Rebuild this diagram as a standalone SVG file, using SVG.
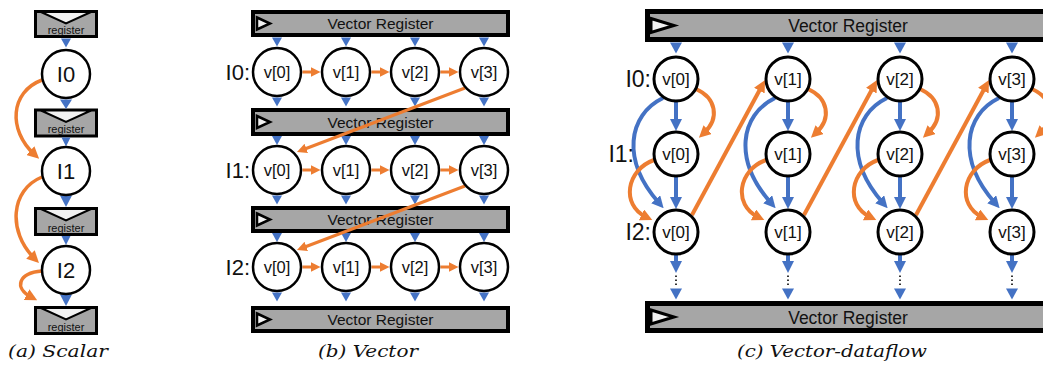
<svg xmlns="http://www.w3.org/2000/svg" xmlns:xlink="http://www.w3.org/1999/xlink" width="1043" height="365" viewBox="0 0 1043 365">
  <style>
    .reg { fill: #a6a6a6; stroke: #000; }
    .clk { fill: #f2f2f2; stroke: #000; }
    .node { fill: #fff; stroke: #000; }
    .sans { font-family: "Liberation Sans", Arial, sans-serif; fill: #111; }
    .cap { font-family: "DejaVu Serif", "Liberation Serif", serif; font-style: italic; font-size: 17px; fill: #111; }
    .o { stroke: #ed7d31; fill: none; }
    .b { stroke: #4472c4; fill: none; }
    .bt { fill: #4472c4; }
    .dots { stroke: #000; stroke-width: 1.6; stroke-dasharray: 1.6 2.4; fill: none; }
  </style>
  <defs>
    <marker id="arrO" markerUnits="userSpaceOnUse" markerWidth="12" markerHeight="12" refX="5" refY="6" orient="auto" viewBox="0 0 12 12">
      <path d="M0,0 L12,6 L0,12 z" fill="#ed7d31"/>
    </marker>
    <marker id="arrOs" markerUnits="userSpaceOnUse" markerWidth="10" markerHeight="10" refX="3" refY="5" orient="auto" viewBox="0 0 10 10">
      <path d="M0,0 L10,5 L0,10 z" fill="#ed7d31"/>
    </marker>
    <marker id="arrB" markerUnits="userSpaceOnUse" markerWidth="12" markerHeight="12" refX="5" refY="6" orient="auto" viewBox="0 0 12 12">
      <path d="M0,0 L12,6 L0,12 z" fill="#4472c4"/>
    </marker>
    <polygon id="tb" class="bt" points="-5,0 5,0 0,9"/>
    <polygon id="tc" class="bt" points="-6,0 6,0 0,11"/>
  </defs>

  <!-- ===================== (a) Scalar ===================== -->
  <g id="a-reg0">
    <rect class="reg" x="35.5" y="11.5" width="61" height="25" stroke-width="3"/>
    <polygon class="clk" points="41,12 66,23.5 91,12" stroke-width="2"/>
    <text class="sans" x="66" y="34" font-size="11" text-anchor="middle">register</text>
  </g>
  <g id="a-reg1">
    <rect class="reg" x="35.5" y="110" width="61" height="26" stroke-width="3"/>
    <polygon class="clk" points="41,110.5 66,122 91,110.5" stroke-width="2"/>
    <text class="sans" x="66" y="133" font-size="11" text-anchor="middle">register</text>
  </g>
  <g id="a-reg2">
    <rect class="reg" x="35.5" y="208.5" width="61" height="26" stroke-width="3"/>
    <polygon class="clk" points="41,209 66,220.5 91,209" stroke-width="2"/>
    <text class="sans" x="66" y="231.5" font-size="11" text-anchor="middle">register</text>
  </g>
  <g id="a-reg3">
    <rect class="reg" x="35.5" y="307.5" width="61" height="26" stroke-width="3"/>
    <polygon class="clk" points="41,308 66,319.5 91,308" stroke-width="2"/>
    <text class="sans" x="66" y="330.5" font-size="11" text-anchor="middle">register</text>
  </g>

  <!-- ===================== (b) Vector: registers ===================== -->
  <g id="b-reg0">
    <rect class="reg" x="253" y="12" width="255" height="23" stroke-width="4"/>
    <polygon class="clk" points="257,17.5 270,23.5 257,29.5" stroke-width="2.5"/>
    <text class="sans" x="380.5" y="29" font-size="15.5" text-anchor="middle">Vector Register</text>
  </g>
  <g id="b-reg1">
    <rect class="reg" x="253" y="110" width="255" height="24" stroke-width="4"/>
    <polygon class="clk" points="257,116 270,122 257,128" stroke-width="2.5"/>
    <text class="sans" x="380.5" y="127.5" font-size="15.5" text-anchor="middle">Vector Register</text>
  </g>
  <g id="b-reg2">
    <rect class="reg" x="253" y="208" width="255" height="23" stroke-width="4"/>
    <polygon class="clk" points="257,213.5 270,219.5 257,225.5" stroke-width="2.5"/>
    <text class="sans" x="380.5" y="225" font-size="15.5" text-anchor="middle">Vector Register</text>
  </g>
  <g id="b-reg3">
    <rect class="reg" x="253" y="308" width="255" height="23" stroke-width="4"/>
    <polygon class="clk" points="257,313.5 270,319.5 257,325.5" stroke-width="2.5"/>
    <text class="sans" x="380.5" y="325" font-size="15.5" text-anchor="middle">Vector Register</text>
  </g>

  <!-- ===================== (c) Vector-dataflow: registers ===================== -->
  <g id="c-reg0">
    <rect class="reg" x="647.5" y="11.5" width="402" height="28" stroke-width="5"/>
    <polygon class="clk" points="651,18.5 674,25.5 651,32.5" stroke-width="3"/>
    <text class="sans" x="848" y="32" font-size="17.5" text-anchor="middle">Vector Register</text>
  </g>
  <g id="c-reg1">
    <rect class="reg" x="647.5" y="303.5" width="402" height="27" stroke-width="5"/>
    <polygon class="clk" points="651,310 674,317 651,324" stroke-width="3"/>
    <text class="sans" x="848" y="323.5" font-size="17.5" text-anchor="middle">Vector Register</text>
  </g>

  <!-- ===================== connectors ===================== -->
  <g id="connectors">
    <!-- (a) register / stage hand-offs -->
    <use xlink:href="#tb" x="66" y="38.5"/>
    <polygon class="bt" points="60,99.5 72,99.5 66,109"/>
    <polygon class="bt" points="61.5,137.5 70.5,137.5 66,146.5"/>
    <polygon class="bt" points="60,195.5 72,195.5 66,207"/>
    <polygon class="bt" points="61.5,236 70.5,236 66,245"/>
    <polygon class="bt" points="60,294.5 72,294.5 66,306"/>
    <!-- (a) forwarding -->
    <path class="o" stroke-width="3.5" d="M42,80 C10,92 8,130 34,154" marker-end="url(#arrO)"/>
    <path class="o" stroke-width="3.5" d="M42,177 C10,190 8,232 34,258" marker-end="url(#arrO)"/>
    <path class="o" stroke-width="3.5" d="M42,271 C18,273 14,288 31,297" marker-end="url(#arrO)"/>

    <!-- (b) register to lane / lane to register -->
    <g>
      <use xlink:href="#tb" x="277" y="37.5"/><use xlink:href="#tb" x="346" y="37.5"/><use xlink:href="#tb" x="415" y="37.5"/><use xlink:href="#tb" x="484" y="37.5"/>
      <use xlink:href="#tb" x="277" y="97.5"/><use xlink:href="#tb" x="346" y="97.5"/><use xlink:href="#tb" x="415" y="97.5"/><use xlink:href="#tb" x="484" y="97.5"/>
      <use xlink:href="#tb" x="277" y="136"/><use xlink:href="#tb" x="346" y="136"/><use xlink:href="#tb" x="415" y="136"/><use xlink:href="#tb" x="484" y="136"/>
      <use xlink:href="#tb" x="277" y="195.5"/><use xlink:href="#tb" x="346" y="195.5"/><use xlink:href="#tb" x="415" y="195.5"/><use xlink:href="#tb" x="484" y="195.5"/>
      <use xlink:href="#tb" x="277" y="233"/><use xlink:href="#tb" x="346" y="233"/><use xlink:href="#tb" x="415" y="233"/><use xlink:href="#tb" x="484" y="233"/>
      <use xlink:href="#tb" x="277" y="292.5"/><use xlink:href="#tb" x="346" y="292.5"/><use xlink:href="#tb" x="415" y="292.5"/><use xlink:href="#tb" x="484" y="292.5"/>
    </g>
    <!-- (b) lane-to-lane order -->
    <g class="o" stroke-width="3">
      <line x1="302.5" y1="72" x2="313.5" y2="72" marker-end="url(#arrOs)"/>
      <line x1="371.5" y1="72" x2="382.5" y2="72" marker-end="url(#arrOs)"/>
      <line x1="440.5" y1="72" x2="451.5" y2="72" marker-end="url(#arrOs)"/>
      <line x1="302.5" y1="170" x2="313.5" y2="170" marker-end="url(#arrOs)"/>
      <line x1="371.5" y1="170" x2="382.5" y2="170" marker-end="url(#arrOs)"/>
      <line x1="440.5" y1="170" x2="451.5" y2="170" marker-end="url(#arrOs)"/>
      <line x1="302.5" y1="267" x2="313.5" y2="267" marker-end="url(#arrOs)"/>
      <line x1="371.5" y1="267" x2="382.5" y2="267" marker-end="url(#arrOs)"/>
      <line x1="440.5" y1="267" x2="451.5" y2="267" marker-end="url(#arrOs)"/>
      <line x1="465" y1="88" x2="303.5" y2="149.5" marker-end="url(#arrOs)"/>
      <line x1="465" y1="186" x2="303.5" y2="247.5" marker-end="url(#arrOs)"/>
    </g>

    <!-- (c) per-lane dataflow, lane 0 -->
    <g transform="translate(676,0)">
      <use xlink:href="#tc" y="42.5"/>
      <line class="b" stroke-width="4" x1="0" y1="102" x2="0" y2="124" marker-end="url(#arrB)"/>
      <line class="b" stroke-width="4" x1="0" y1="177" x2="0" y2="202" marker-end="url(#arrB)"/>
      <path class="b" stroke-width="4" d="M-13,98 C-48,115 -55,160 -17,203" marker-end="url(#arrB)"/>
      <path class="o" stroke-width="4" d="M20,89 C40,98 44,118 28,133" marker-end="url(#arrO)"/>
      <path class="o" stroke-width="4" d="M-22,160 C-50,170 -55,205 -30,217" marker-end="url(#arrO)"/>
      <line class="b" stroke-width="4" x1="0" y1="255" x2="0" y2="266" marker-end="url(#arrB)"/>
      <line class="dots" x1="0" y1="275.5" x2="0" y2="287"/>
      <use xlink:href="#tc" y="288.5"/>
      <line class="o" stroke-width="4" x1="16" y1="215" x2="85.7" y2="86.2" marker-end="url(#arrO)"/>
    </g>
    <!-- lane 1 -->
    <g transform="translate(788,0)">
      <use xlink:href="#tc" y="42.5"/>
      <line class="b" stroke-width="4" x1="0" y1="102" x2="0" y2="124" marker-end="url(#arrB)"/>
      <line class="b" stroke-width="4" x1="0" y1="177" x2="0" y2="202" marker-end="url(#arrB)"/>
      <path class="b" stroke-width="4" d="M-13,98 C-48,115 -55,160 -17,203" marker-end="url(#arrB)"/>
      <path class="o" stroke-width="4" d="M20,89 C40,98 44,118 28,133" marker-end="url(#arrO)"/>
      <path class="o" stroke-width="4" d="M-22,160 C-50,170 -55,205 -30,217" marker-end="url(#arrO)"/>
      <line class="b" stroke-width="4" x1="0" y1="255" x2="0" y2="266" marker-end="url(#arrB)"/>
      <line class="dots" x1="0" y1="275.5" x2="0" y2="287"/>
      <use xlink:href="#tc" y="288.5"/>
      <line class="o" stroke-width="4" x1="16" y1="215" x2="85.7" y2="86.2" marker-end="url(#arrO)"/>
    </g>
    <!-- lane 2 -->
    <g transform="translate(900,0)">
      <use xlink:href="#tc" y="42.5"/>
      <line class="b" stroke-width="4" x1="0" y1="102" x2="0" y2="124" marker-end="url(#arrB)"/>
      <line class="b" stroke-width="4" x1="0" y1="177" x2="0" y2="202" marker-end="url(#arrB)"/>
      <path class="b" stroke-width="4" d="M-13,98 C-48,115 -55,160 -17,203" marker-end="url(#arrB)"/>
      <path class="o" stroke-width="4" d="M20,89 C40,98 44,118 28,133" marker-end="url(#arrO)"/>
      <path class="o" stroke-width="4" d="M-22,160 C-50,170 -55,205 -30,217" marker-end="url(#arrO)"/>
      <line class="b" stroke-width="4" x1="0" y1="255" x2="0" y2="266" marker-end="url(#arrB)"/>
      <line class="dots" x1="0" y1="275.5" x2="0" y2="287"/>
      <use xlink:href="#tc" y="288.5"/>
      <line class="o" stroke-width="4" x1="16" y1="215" x2="85.7" y2="86.2" marker-end="url(#arrO)"/>
    </g>
    <!-- lane 3 -->
    <g transform="translate(1012,0)">
      <use xlink:href="#tc" y="42.5"/>
      <line class="b" stroke-width="4" x1="0" y1="102" x2="0" y2="124" marker-end="url(#arrB)"/>
      <line class="b" stroke-width="4" x1="0" y1="177" x2="0" y2="202" marker-end="url(#arrB)"/>
      <path class="b" stroke-width="4" d="M-13,98 C-48,115 -55,160 -17,203" marker-end="url(#arrB)"/>
      <path class="o" stroke-width="4" d="M20,89 C40,98 44,118 28,133" marker-end="url(#arrO)"/>
      <path class="o" stroke-width="4" d="M-22,160 C-50,170 -55,205 -30,217" marker-end="url(#arrO)"/>
      <line class="b" stroke-width="4" x1="0" y1="255" x2="0" y2="266" marker-end="url(#arrB)"/>
      <line class="dots" x1="0" y1="275.5" x2="0" y2="287"/>
      <use xlink:href="#tc" y="288.5"/>
    </g>
  </g>

  <!-- ===================== (a) nodes ===================== -->
  <g id="a-I0"><circle class="node" cx="66" cy="74" r="24" stroke-width="2.5"/><text class="sans" x="66" y="82" font-size="22" text-anchor="middle">I0</text></g>
  <g id="a-I1"><circle class="node" cx="66" cy="171" r="24" stroke-width="2.5"/><text class="sans" x="66" y="179" font-size="22" text-anchor="middle">I1</text></g>
  <g id="a-I2"><circle class="node" cx="66" cy="270" r="24" stroke-width="2.5"/><text class="sans" x="66" y="278" font-size="22" text-anchor="middle">I2</text></g>

  <!-- ===================== (b) nodes ===================== -->
  <g id="b-labels" class="sans" font-size="22" text-anchor="end">
    <text x="250" y="80">I0:</text>
    <text x="250" y="178">I1:</text>
    <text x="250" y="275">I2:</text>
  </g>
  <g id="b-r0v0"><circle class="node" cx="277" cy="72" r="24" stroke-width="2.5"/><text class="sans" x="277" y="78" font-size="16.5" text-anchor="middle">v[0]</text></g>
  <g id="b-r0v1"><circle class="node" cx="346" cy="72" r="24" stroke-width="2.5"/><text class="sans" x="346" y="78" font-size="16.5" text-anchor="middle">v[1]</text></g>
  <g id="b-r0v2"><circle class="node" cx="415" cy="72" r="24" stroke-width="2.5"/><text class="sans" x="415" y="78" font-size="16.5" text-anchor="middle">v[2]</text></g>
  <g id="b-r0v3"><circle class="node" cx="484" cy="72" r="24" stroke-width="2.5"/><text class="sans" x="484" y="78" font-size="16.5" text-anchor="middle">v[3]</text></g>
  <g id="b-r1v0"><circle class="node" cx="277" cy="170" r="24" stroke-width="2.5"/><text class="sans" x="277" y="176" font-size="16.5" text-anchor="middle">v[0]</text></g>
  <g id="b-r1v1"><circle class="node" cx="346" cy="170" r="24" stroke-width="2.5"/><text class="sans" x="346" y="176" font-size="16.5" text-anchor="middle">v[1]</text></g>
  <g id="b-r1v2"><circle class="node" cx="415" cy="170" r="24" stroke-width="2.5"/><text class="sans" x="415" y="176" font-size="16.5" text-anchor="middle">v[2]</text></g>
  <g id="b-r1v3"><circle class="node" cx="484" cy="170" r="24" stroke-width="2.5"/><text class="sans" x="484" y="176" font-size="16.5" text-anchor="middle">v[3]</text></g>
  <g id="b-r2v0"><circle class="node" cx="277" cy="267" r="24" stroke-width="2.5"/><text class="sans" x="277" y="273" font-size="16.5" text-anchor="middle">v[0]</text></g>
  <g id="b-r2v1"><circle class="node" cx="346" cy="267" r="24" stroke-width="2.5"/><text class="sans" x="346" y="273" font-size="16.5" text-anchor="middle">v[1]</text></g>
  <g id="b-r2v2"><circle class="node" cx="415" cy="267" r="24" stroke-width="2.5"/><text class="sans" x="415" y="273" font-size="16.5" text-anchor="middle">v[2]</text></g>
  <g id="b-r2v3"><circle class="node" cx="484" cy="267" r="24" stroke-width="2.5"/><text class="sans" x="484" y="273" font-size="16.5" text-anchor="middle">v[3]</text></g>

  <!-- ===================== (c) nodes ===================== -->
  <g id="c-labels" class="sans" font-size="23" text-anchor="end">
    <text x="651" y="87">I0:</text>
    <text x="634" y="162">I1:</text>
    <text x="651" y="240">I2:</text>
  </g>
  <g id="c-r0v0"><circle class="node" cx="676" cy="79" r="22" stroke-width="3"/><text class="sans" x="676" y="85" font-size="17" text-anchor="middle">v[0]</text></g>
  <g id="c-r0v1"><circle class="node" cx="788" cy="79" r="22" stroke-width="3"/><text class="sans" x="788" y="85" font-size="17" text-anchor="middle">v[1]</text></g>
  <g id="c-r0v2"><circle class="node" cx="900" cy="79" r="22" stroke-width="3"/><text class="sans" x="900" y="85" font-size="17" text-anchor="middle">v[2]</text></g>
  <g id="c-r0v3"><circle class="node" cx="1012" cy="79" r="22" stroke-width="3"/><text class="sans" x="1012" y="85" font-size="17" text-anchor="middle">v[3]</text></g>
  <g id="c-r1v0"><circle class="node" cx="676" cy="154" r="22" stroke-width="3"/><text class="sans" x="676" y="160" font-size="17" text-anchor="middle">v[0]</text></g>
  <g id="c-r1v1"><circle class="node" cx="788" cy="154" r="22" stroke-width="3"/><text class="sans" x="788" y="160" font-size="17" text-anchor="middle">v[1]</text></g>
  <g id="c-r1v2"><circle class="node" cx="900" cy="154" r="22" stroke-width="3"/><text class="sans" x="900" y="160" font-size="17" text-anchor="middle">v[2]</text></g>
  <g id="c-r1v3"><circle class="node" cx="1012" cy="154" r="22" stroke-width="3"/><text class="sans" x="1012" y="160" font-size="17" text-anchor="middle">v[3]</text></g>
  <g id="c-r2v0"><circle class="node" cx="676" cy="232" r="22" stroke-width="3"/><text class="sans" x="676" y="238" font-size="17" text-anchor="middle">v[0]</text></g>
  <g id="c-r2v1"><circle class="node" cx="788" cy="232" r="22" stroke-width="3"/><text class="sans" x="788" y="238" font-size="17" text-anchor="middle">v[1]</text></g>
  <g id="c-r2v2"><circle class="node" cx="900" cy="232" r="22" stroke-width="3"/><text class="sans" x="900" y="238" font-size="17" text-anchor="middle">v[2]</text></g>
  <g id="c-r2v3"><circle class="node" cx="1012" cy="232" r="22" stroke-width="3"/><text class="sans" x="1012" y="238" font-size="17" text-anchor="middle">v[3]</text></g>

  <!-- ===================== captions ===================== -->
  <g id="captions">
    <text class="cap" x="8" y="357" textLength="100" lengthAdjust="spacingAndGlyphs">(a) Scalar</text>
    <text class="cap" x="318" y="357" textLength="100" lengthAdjust="spacingAndGlyphs">(b) Vector</text>
    <text class="cap" x="737" y="357" textLength="190" lengthAdjust="spacingAndGlyphs">(c) Vector-dataflow</text>
  </g>
</svg>
